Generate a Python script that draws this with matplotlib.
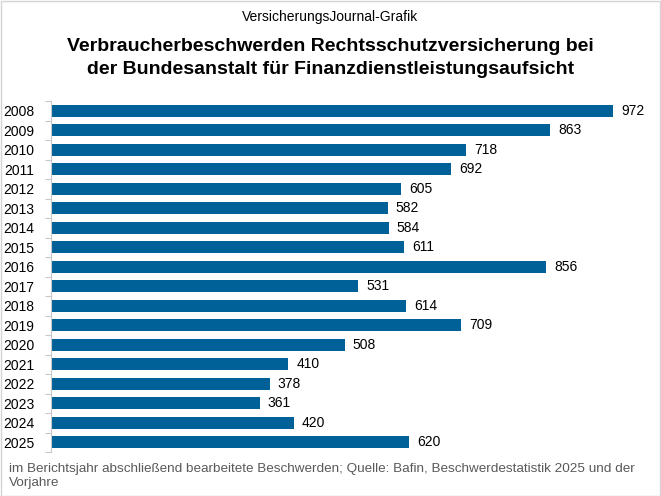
import matplotlib.pyplot as plt
import numpy as np

years = ['2008', '2009', '2010', '2011', '2012', '2013', '2014', '2015', '2016',
         '2017', '2018', '2019', '2020', '2021', '2022', '2023', '2024', '2025']
values = [972, 863, 718, 692, 605, 582, 584, 611, 856,
          531, 614, 709, 508, 410, 378, 361, 420, 620]

plt.rcParams['font.family'] = ['Liberation Sans', 'DejaVu Sans']

fig = plt.figure(figsize=(6.61, 4.96), dpi=100)
fig.patches.append(plt.Rectangle((0.001, 0.001), 0.997, 0.997, transform=fig.transFigure,
                                 fill=False, edgecolor='#d4d4d4', lw=1))

W, H = 661, 496
left, right, top, bottom = 51, 650, 101, 452
ax = fig.add_axes([left / W, 1 - bottom / H, (right - left) / W, (bottom - top) / H])

y = np.arange(len(years))
ax.barh(y, values, height=0.62, color='#006199')
for yi, v in zip(y, values):
    ax.text(v + 14, yi, str(v), va='center', ha='left', fontsize=10, color='black')

ax.set_ylim(len(years) - 0.5, -0.5)
ax.set_xlim(0, 1036)
ax.set_yticks(y)
ax.set_yticklabels(years, fontsize=10)
ax.tick_params(axis='y', length=0, pad=12)
ax.set_yticks(np.arange(-0.5, len(years)), minor=True)
ax.tick_params(axis='y', which='minor', length=4, color='#c8c8c8', width=0.8)
ax.set_xticks([])
for s in ['top', 'right', 'bottom']:
    ax.spines[s].set_visible(False)
ax.spines['left'].set_color('#c8c8c8')
ax.spines['left'].set_linewidth(0.8)

fig.text(0.5, 1 - 17 / H, 'VersicherungsJournal-Grafik', ha='center', va='center', fontsize=10)
fig.text(0.5, 1 - 58 / H, 'Verbraucherbeschwerden Rechtsschutzversicherung bei\nder Bundesanstalt für Finanzdienstleistungsaufsicht',
         ha='center', va='center', fontsize=14, fontweight='bold', linespacing=1.45)
fig.text(9 / W, 1 - 476 / H, 'im Berichtsjahr abschließend bearbeitete Beschwerden; Quelle: Bafin, Beschwerdestatistik 2025 und der\nVorjahre',
         ha='left', va='center', fontsize=9.7, color='#595959', linespacing=1.25)

fig.savefig('out.png', dpi=100)
